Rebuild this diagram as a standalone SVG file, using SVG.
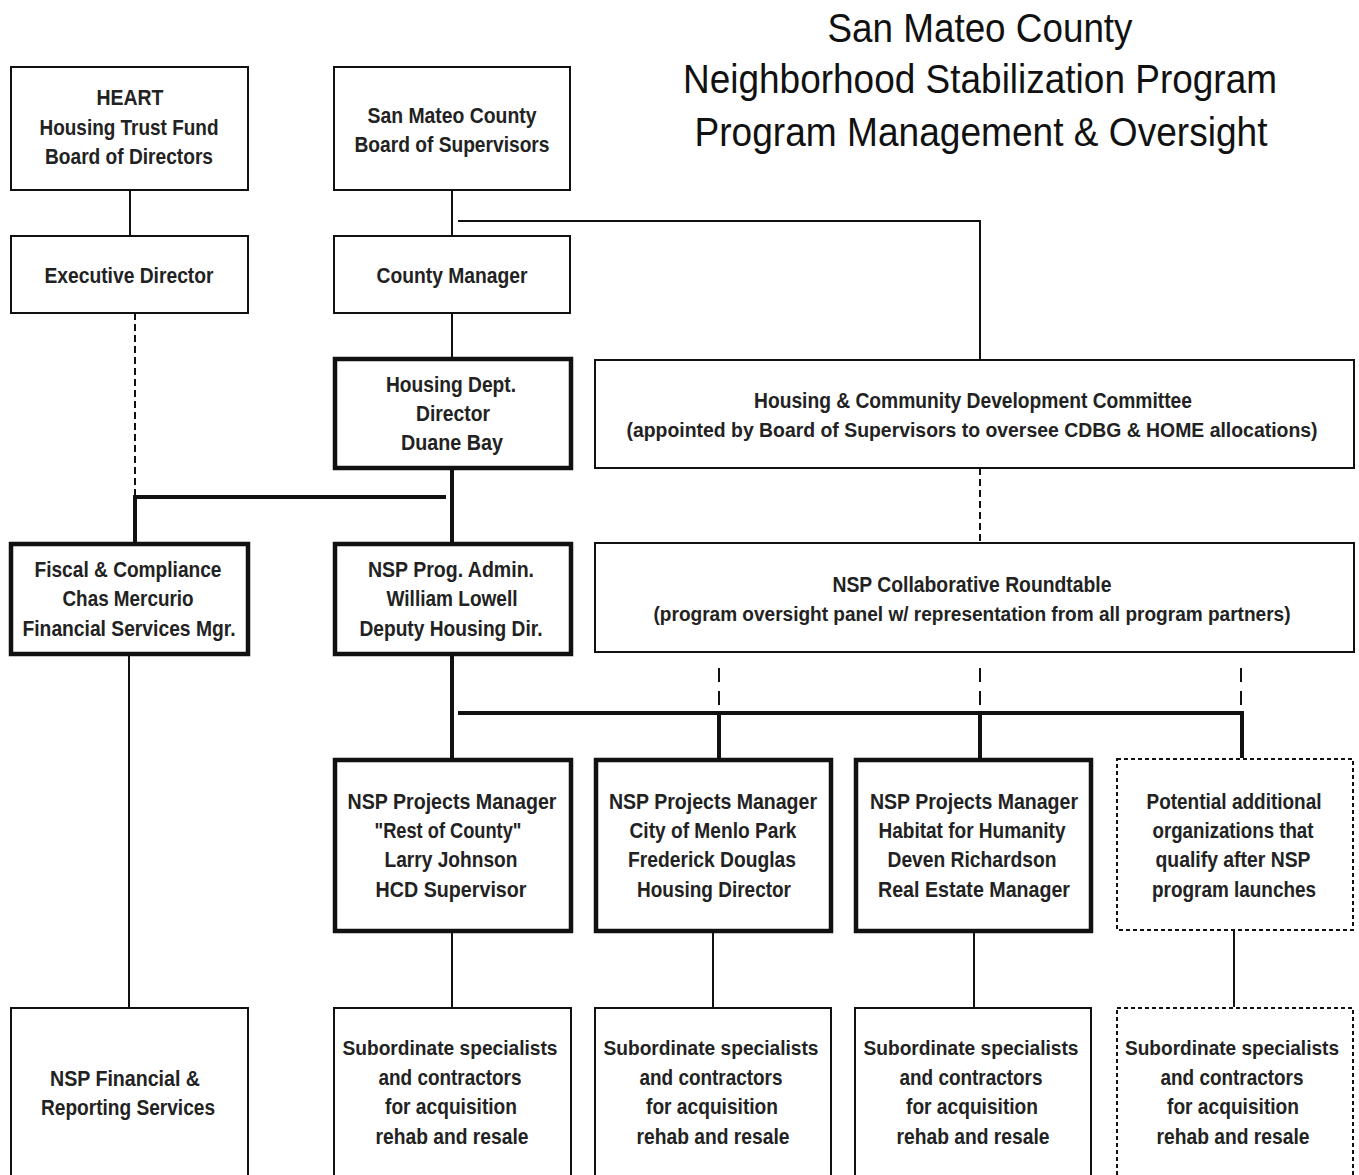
<svg xmlns="http://www.w3.org/2000/svg" width="1359" height="1175" viewBox="0 0 1359 1175">
<style>
.box{fill:#fff;stroke:#111;stroke-width:2}
.thick{stroke-width:4.5}
.dbox{stroke-dasharray:4 3}
.t{font-family:"Liberation Sans Narrow","Liberation Sans",Arial,sans-serif;font-size:22px;font-weight:bold;text-anchor:middle;fill:#222}
.s{font-size:20px}
.title{font-family:"Liberation Sans",Arial,sans-serif;font-size:41px;text-anchor:middle;fill:#111}
.ln{stroke:#111;stroke-width:2;fill:none}
.lnb{stroke-width:4}
.dl{stroke-dasharray:7 4}
.dl2{stroke-dasharray:14 9}
</style>
<rect width="1359" height="1175" fill="#fff"/>
<g id="title">
<text class="title" x="980" y="42" textLength="305" lengthAdjust="spacingAndGlyphs">San Mateo County</text>
<text class="title" x="980" y="93" textLength="594" lengthAdjust="spacingAndGlyphs">Neighborhood Stabilization Program</text>
<text class="title" x="981" y="146" textLength="573" lengthAdjust="spacingAndGlyphs">Program Management &amp; Oversight</text>
</g>
<g id="connectors">
<line class="ln" x1="130" y1="190" x2="130" y2="236"/>
<line class="ln" x1="452" y1="190" x2="452" y2="236"/>
<polyline class="ln" points="458,221 980,221 980,360"/>
<line class="ln" x1="452" y1="313" x2="452" y2="358"/>
<line class="ln dl" x1="135" y1="313" x2="135" y2="496"/>
<line class="ln lnb" x1="452" y1="468" x2="452" y2="543"/>
<polyline class="ln lnb" points="446,497 135,497 135,543"/>
<line class="ln dl" x1="980" y1="468" x2="980" y2="543"/>
<line class="ln lnb" x1="452" y1="654" x2="452" y2="758"/>
<line class="ln lnb" x1="458" y1="713" x2="1244" y2="713"/>
<line class="ln lnb" x1="719" y1="713" x2="719" y2="758"/>
<line class="ln lnb" x1="980" y1="713" x2="980" y2="758"/>
<line class="ln lnb" x1="1242" y1="713" x2="1242" y2="758"/>
<line class="ln dl2" x1="719" y1="668" x2="719" y2="713"/>
<line class="ln dl2" x1="980" y1="668" x2="980" y2="713"/>
<line class="ln dl2" x1="1241" y1="668" x2="1241" y2="713"/>
<line class="ln" x1="129" y1="654" x2="129" y2="1007"/>
<line class="ln" x1="452" y1="931" x2="452" y2="1007"/>
<line class="ln" x1="713" y1="931" x2="713" y2="1007"/>
<line class="ln" x1="974" y1="931" x2="974" y2="1007"/>
<line class="ln" x1="1234" y1="930" x2="1234" y2="1007"/>
</g>
<g id="heart">
<rect class="box" x="11" y="67" width="237" height="123"/>
<text class="t" x="130" y="105" textLength="67" lengthAdjust="spacingAndGlyphs">HEART</text>
<text class="t" x="129" y="135" textLength="179" lengthAdjust="spacingAndGlyphs">Housing Trust Fund</text>
<text class="t" x="129" y="164" textLength="168" lengthAdjust="spacingAndGlyphs">Board of Directors</text>
</g>
<g id="board">
<rect class="box" x="334" y="67" width="236" height="123"/>
<text class="t" x="452" y="123" textLength="169" lengthAdjust="spacingAndGlyphs">San Mateo County</text>
<text class="t" x="452" y="152" textLength="195" lengthAdjust="spacingAndGlyphs">Board of Supervisors</text>
</g>
<g id="exec">
<rect class="box" x="11" y="236" width="237" height="77"/>
<text class="t" x="129" y="283" textLength="169" lengthAdjust="spacingAndGlyphs">Executive Director</text>
</g>
<g id="county-manager">
<rect class="box" x="334" y="236" width="236" height="77"/>
<text class="t" x="452" y="283" textLength="151" lengthAdjust="spacingAndGlyphs">County Manager</text>
</g>
<g id="housing-dept">
<rect class="box thick" x="335" y="359" width="236" height="109"/>
<text class="t" x="451" y="392" textLength="130" lengthAdjust="spacingAndGlyphs">Housing Dept.</text>
<text class="t" x="453" y="421" textLength="74" lengthAdjust="spacingAndGlyphs">Director</text>
<text class="t" x="452" y="450" textLength="102" lengthAdjust="spacingAndGlyphs">Duane Bay</text>
</g>
<g id="hcd">
<rect class="box" x="595" y="360" width="759" height="108"/>
<text class="t" x="973" y="408" textLength="438" lengthAdjust="spacingAndGlyphs">Housing &amp; Community Development Committee</text>
<text class="t s" x="972" y="437" textLength="691" lengthAdjust="spacingAndGlyphs">(appointed by Board of Supervisors to oversee CDBG &amp; HOME allocations)</text>
</g>
<g id="fiscal">
<rect class="box thick" x="11" y="544" width="237" height="110"/>
<text class="t" x="128" y="577" textLength="187" lengthAdjust="spacingAndGlyphs">Fiscal &amp; Compliance</text>
<text class="t" x="128" y="606" textLength="131" lengthAdjust="spacingAndGlyphs">Chas Mercurio</text>
<text class="t" x="129" y="636" textLength="213" lengthAdjust="spacingAndGlyphs">Financial Services Mgr.</text>
</g>
<g id="nsp-admin">
<rect class="box thick" x="335" y="544" width="236" height="110"/>
<text class="t" x="451" y="577" textLength="166" lengthAdjust="spacingAndGlyphs">NSP Prog. Admin.</text>
<text class="t" x="452" y="606" textLength="131" lengthAdjust="spacingAndGlyphs">William Lowell</text>
<text class="t" x="451" y="636" textLength="183" lengthAdjust="spacingAndGlyphs">Deputy Housing Dir.</text>
</g>
<g id="roundtable">
<rect class="box" x="595" y="543" width="759" height="109"/>
<text class="t" x="972" y="592" textLength="279" lengthAdjust="spacingAndGlyphs">NSP Collaborative Roundtable</text>
<text class="t s" x="972" y="621" textLength="637" lengthAdjust="spacingAndGlyphs">(program oversight panel w/ representation from all program partners)</text>
</g>
<g id="pm-county">
<rect class="box thick" x="335" y="760" width="236" height="171"/>
<text class="t" x="452" y="809" textLength="209" lengthAdjust="spacingAndGlyphs">NSP Projects Manager</text>
<text class="t" x="448" y="838" textLength="147" lengthAdjust="spacingAndGlyphs">"Rest of County"</text>
<text class="t" x="451" y="867" textLength="133" lengthAdjust="spacingAndGlyphs">Larry Johnson</text>
<text class="t" x="451" y="897" textLength="151" lengthAdjust="spacingAndGlyphs">HCD Supervisor</text>
</g>
<g id="pm-menlo">
<rect class="box thick" x="596" y="760" width="235" height="171"/>
<text class="t" x="713" y="809" textLength="208" lengthAdjust="spacingAndGlyphs">NSP Projects Manager</text>
<text class="t" x="713" y="838" textLength="167" lengthAdjust="spacingAndGlyphs">City of Menlo Park</text>
<text class="t" x="712" y="867" textLength="168" lengthAdjust="spacingAndGlyphs">Frederick Douglas</text>
<text class="t" x="714" y="897" textLength="154" lengthAdjust="spacingAndGlyphs">Housing Director</text>
</g>
<g id="pm-habitat">
<rect class="box thick" x="856" y="760" width="235" height="171"/>
<text class="t" x="974" y="809" textLength="208" lengthAdjust="spacingAndGlyphs">NSP Projects Manager</text>
<text class="t" x="972" y="838" textLength="187" lengthAdjust="spacingAndGlyphs">Habitat for Humanity</text>
<text class="t" x="972" y="867" textLength="169" lengthAdjust="spacingAndGlyphs">Deven Richardson</text>
<text class="t" x="974" y="897" textLength="192" lengthAdjust="spacingAndGlyphs">Real Estate Manager</text>
</g>
<g id="potential">
<rect class="box dbox" x="1117" y="759" width="236" height="171"/>
<text class="t" x="1234" y="809" textLength="175" lengthAdjust="spacingAndGlyphs">Potential additional</text>
<text class="t" x="1233" y="838" textLength="161" lengthAdjust="spacingAndGlyphs">organizations that</text>
<text class="t" x="1233" y="867" textLength="155" lengthAdjust="spacingAndGlyphs">qualify after NSP</text>
<text class="t" x="1234" y="897" textLength="164" lengthAdjust="spacingAndGlyphs">program launches</text>
</g>
<g id="nsp-financial">
<rect class="box" x="11" y="1008" width="237" height="180"/>
<text class="t" x="125" y="1086" textLength="150" lengthAdjust="spacingAndGlyphs">NSP Financial &amp;</text>
<text class="t" x="128" y="1115" textLength="174" lengthAdjust="spacingAndGlyphs">Reporting Services</text>
</g>
<g id="sub-county">
<rect class="box" x="334" y="1008" width="237" height="180"/>
<text class="t s" x="450" y="1055" textLength="215" lengthAdjust="spacingAndGlyphs">Subordinate specialists</text>
<text class="t" x="450" y="1085" textLength="143" lengthAdjust="spacingAndGlyphs">and contractors</text>
<text class="t" x="451" y="1114" textLength="132" lengthAdjust="spacingAndGlyphs">for acquisition</text>
<text class="t" x="452" y="1144" textLength="153" lengthAdjust="spacingAndGlyphs">rehab and resale</text>
</g>
<g id="sub-menlo">
<rect class="box" x="595" y="1008" width="236" height="180"/>
<text class="t s" x="711" y="1055" textLength="215" lengthAdjust="spacingAndGlyphs">Subordinate specialists</text>
<text class="t" x="711" y="1085" textLength="143" lengthAdjust="spacingAndGlyphs">and contractors</text>
<text class="t" x="712" y="1114" textLength="132" lengthAdjust="spacingAndGlyphs">for acquisition</text>
<text class="t" x="713" y="1144" textLength="153" lengthAdjust="spacingAndGlyphs">rehab and resale</text>
</g>
<g id="sub-habitat">
<rect class="box" x="855" y="1008" width="236" height="180"/>
<text class="t s" x="971" y="1055" textLength="215" lengthAdjust="spacingAndGlyphs">Subordinate specialists</text>
<text class="t" x="971" y="1085" textLength="143" lengthAdjust="spacingAndGlyphs">and contractors</text>
<text class="t" x="972" y="1114" textLength="132" lengthAdjust="spacingAndGlyphs">for acquisition</text>
<text class="t" x="973" y="1144" textLength="153" lengthAdjust="spacingAndGlyphs">rehab and resale</text>
</g>
<g id="sub-potential">
<rect class="box dbox" x="1117" y="1008" width="236" height="180"/>
<text class="t s" x="1232" y="1055" textLength="214" lengthAdjust="spacingAndGlyphs">Subordinate specialists</text>
<text class="t" x="1232" y="1085" textLength="143" lengthAdjust="spacingAndGlyphs">and contractors</text>
<text class="t" x="1233" y="1114" textLength="132" lengthAdjust="spacingAndGlyphs">for acquisition</text>
<text class="t" x="1233" y="1144" textLength="153" lengthAdjust="spacingAndGlyphs">rehab and resale</text>
</g>
</svg>
